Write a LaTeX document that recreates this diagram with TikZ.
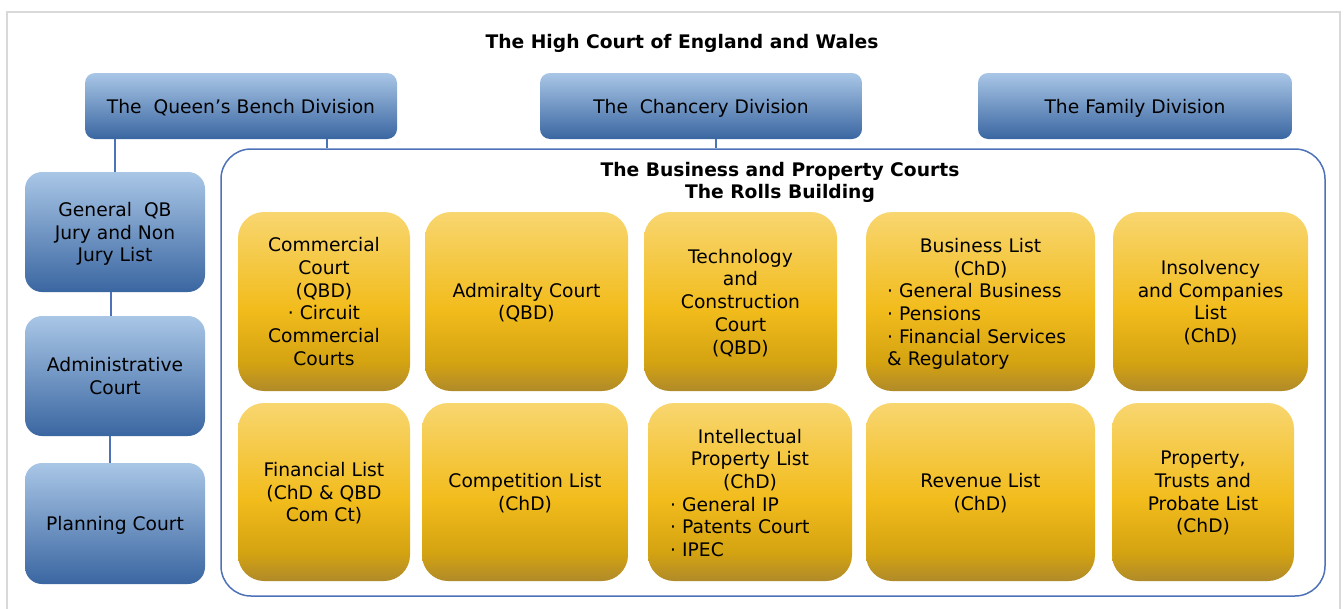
\documentclass[tikz,border=0pt]{standalone}
\usepackage{fontspec}
\setmainfont{DejaVu Sans}
\usetikzlibrary{calc}

\definecolor{bluetop}{HTML}{A9C6E6}
\definecolor{bluemid}{HTML}{6F9BD0}
\definecolor{bluebot}{HTML}{3A66A1}
\definecolor{goldtop}{HTML}{F8D670}
\definecolor{goldmid}{HTML}{F2BC1C}
\definecolor{goldlow}{HTML}{D4A311}
\definecolor{goldbot}{HTML}{B08A2A}
\definecolor{linkblue}{HTML}{4E72B8}
\definecolor{framegray}{HTML}{D9D9D9}

% gold fill, strongest a little below the middle
\pgfdeclareverticalshading{goldfill}{100bp}{color(0bp)=(goldbot);
  color(25bp)=(goldbot); color(33bp)=(goldlow); color(48bp)=(goldmid);
  color(75bp)=(goldtop); color(100bp)=(goldtop)}

\begin{document}
\begin{tikzpicture}[x=1pt,y=-1pt,
    font=\fontsize{18.7}{22.7}\selectfont,
    division/.style={rectangle,rounded corners=10pt,top color=bluetop,
        middle color=bluemid,bottom color=bluebot,align=center,
        minimum height=66pt,inner sep=0pt,text depth=0pt},
    court/.style={rectangle,rounded corners=17pt,top color=bluetop,
        middle color=bluemid,bottom color=bluebot,align=center,
        minimum width=180pt,minimum height=120pt,inner sep=0pt,
        text depth=0pt},
    list/.style={rectangle,rounded corners=26pt,shading=goldfill,
        align=center,inner sep=0pt,text depth=0pt},
    sublist/.style={list,text depth={}},
    link/.style={draw=linkblue,line width=1.5pt}]
\useasboundingbox (0,0) rectangle (1344,608);
\def\rowA{301.5}
\def\rowB{492}

% frame round the chart
\draw[framegray,line width=2pt] (7,612) -- (7,12) -- (1340,12) -- (1340,612);

\node[font=\fontsize{18.7}{22}\selectfont\bfseries] (HC) at (682,43)
    {The High Court of England and Wales};

% the three divisions
\node[division,minimum width=312pt] (QB) at (241,106)
    {The\ \ Queen’s Bench Division};
\node[division,minimum width=322pt] (CH) at (701,106)
    {The\ \ Chancery Division};
\node[division,minimum width=314pt] (FD) at (1135,106)
    {The Family Division};

% courts of the Queen's Bench
\node[court] (GQ) at (115,232) {General\ \ QB\\Jury and Non\\Jury List};
\node[court] (AC) at (115,376) {Administrative\\Court};
\node[court,minimum height=121pt] (PC) at (115,523.5) {Planning Court};

% Business and Property Courts
\node[draw=linkblue,line width=1.5pt,rounded corners=30pt,
    minimum width=1104pt,minimum height=447pt] (BP) at (773,372.5) {};
\node[font=\fontsize{18.7}{22}\selectfont\bfseries,align=center] (BPT)
    at (780,182) {The Business and Property Courts\\The Rolls Building};

\node[list,minimum width=172pt,minimum height=179pt] (COM) at (324,\rowA)
    {Commercial\\Court\\(QBD)\\· Circuit\\Commercial\\Courts};
\node[list,minimum width=203pt,minimum height=179pt] (ADM) at (526.5,\rowA)
    {Admiralty Court\\(QBD)};
\node[list,minimum width=193pt,minimum height=179pt] (TCC) at (740.5,\rowA)
    {Technology\\and\\Construction\\Court\\(QBD)};
\node[sublist,minimum width=229pt,minimum height=179pt,text width=187pt]
    (BUS) at (980.5,\rowA)
    {\rule{0pt}{19pt}Business List\\(ChD)\\
     \makebox[\linewidth][l]{· General Business}\\
     \makebox[\linewidth][l]{· Pensions}\\
     \makebox[\linewidth][l]{· Financial Services}\\
     \makebox[\linewidth][l]{\& Regulatory}};
\node[list,minimum width=195pt,minimum height=179pt] (INS) at (1210.5,\rowA)
    {Insolvency\\and Companies\\List\\(ChD)};

\node[list,minimum width=172pt,minimum height=178pt] (FIN) at (324,\rowB)
    {Financial List\\(ChD \& QBD\\Com Ct)};
\node[list,minimum width=206pt,minimum height=178pt] (CMP) at (525,\rowB)
    {Competition List\\(ChD)};
\node[sublist,minimum width=204pt,minimum height=178pt,text width=160pt]
    (IPL) at (750,\rowB)
    {\rule{0pt}{16pt}Intellectual\\Property List\\(ChD)\\
     \makebox[\linewidth][l]{· General IP}\\
     \makebox[\linewidth][l]{· Patents Court}\\
     \makebox[\linewidth][l]{· IPEC}};
\node[list,minimum width=229pt,minimum height=178pt] (REV) at (980.5,\rowB)
    {Revenue List\\(ChD)};
\node[list,minimum width=182pt,minimum height=178pt] (PTP) at (1203,\rowB)
    {Property,\\Trusts and\\Probate List\\(ChD)};

% links between the boxes
\draw[link] (GQ.north) -- (GQ.north |- QB.south);
\draw[link] ([xshift=86pt]QB.south) -- ([xshift=86pt]QB.south |- BP.north);
\draw[link] ([xshift=15pt]CH.south) -- ([xshift=15pt]CH.south |- BP.north);
\draw[link] ([xshift=-4pt]GQ.south) -- ([xshift=-4pt]AC.north);
\draw[link] ([xshift=-5pt]AC.south) -- ([xshift=-5pt]PC.north);
\end{tikzpicture}
\end{document}
